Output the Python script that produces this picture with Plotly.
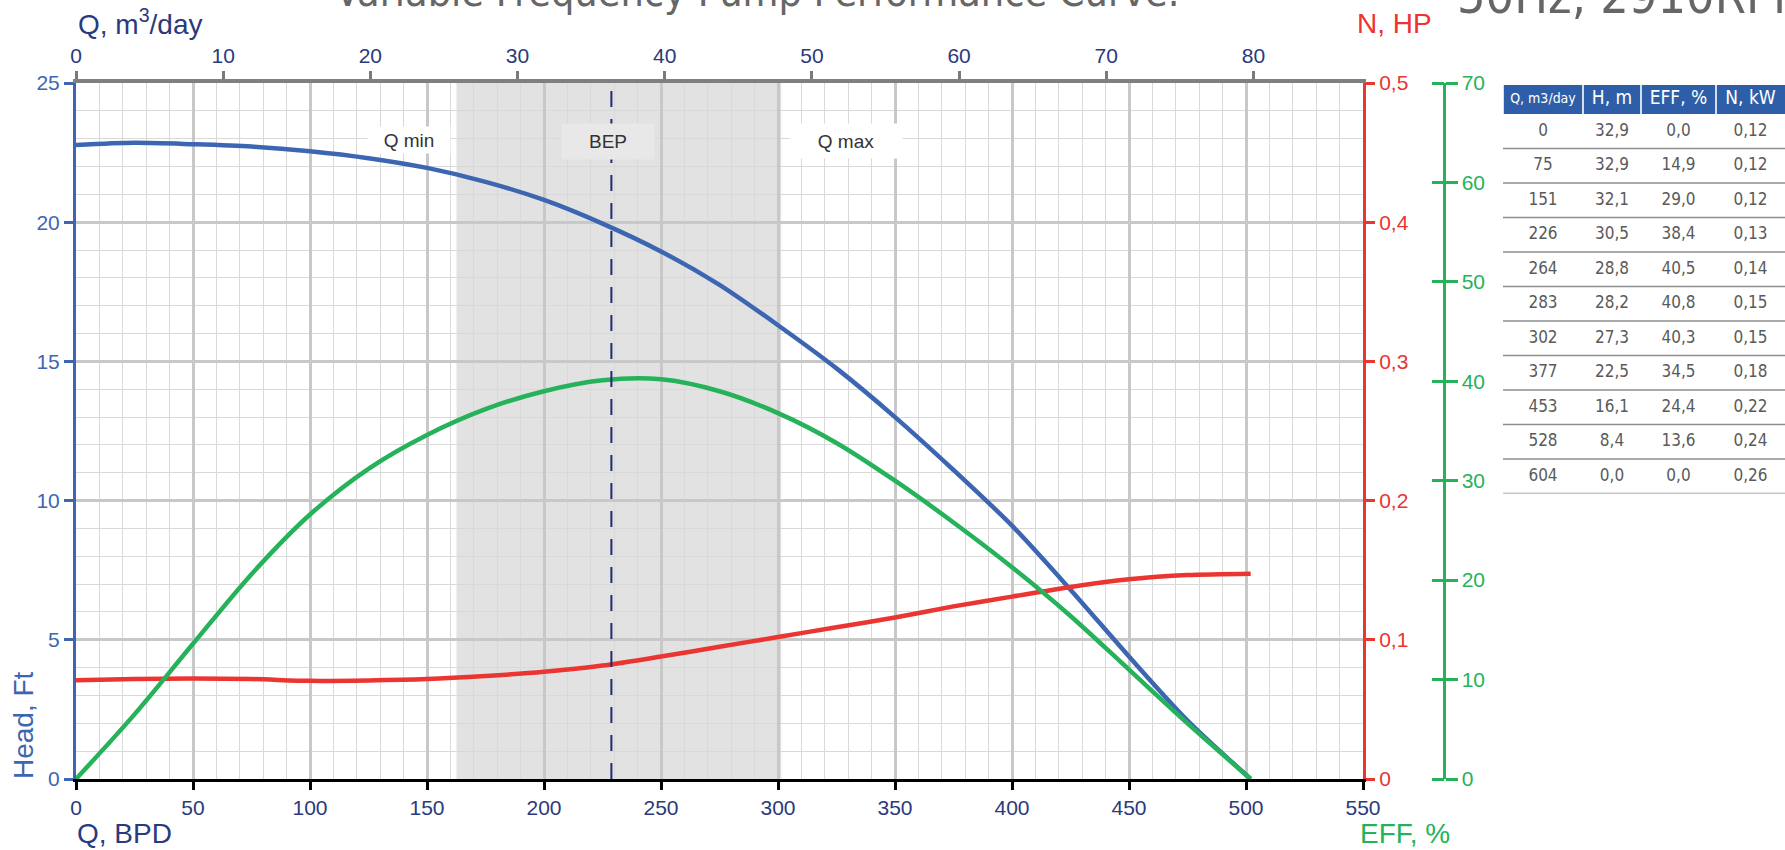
import plotly.graph_objects as go

# ---------------- data ----------------
q_bpd = [0, 25, 50, 75, 100, 125, 150, 175, 200, 225, 250, 275, 300, 325, 350, 375, 400, 425, 450, 475, 502]
head_ft = [22.77, 22.85, 22.8, 22.72, 22.55, 22.3, 21.95, 21.45, 20.8, 19.95, 18.95, 17.75, 16.3, 14.75, 13.0, 11.1, 9.1, 6.8, 4.4, 2.1, 0.0]
eff_pct = [0.0, 6.5, 13.6, 20.6, 26.6, 31.2, 34.6, 37.2, 39.0, 40.1, 40.2, 39.0, 36.8, 33.8, 30.0, 25.8, 21.3, 16.4, 11.0, 5.6, 0.0]
power_hp = [0.071, 0.0718, 0.0722, 0.0718, 0.0705, 0.0708, 0.0718, 0.074, 0.077, 0.0815, 0.088, 0.095, 0.102, 0.109, 0.116, 0.124, 0.131, 0.138, 0.1435, 0.1465, 0.1475]

q_min, q_bep, q_max = 162.6, 228.8, 301.4

x_ticks_bpd = [0, 50, 100, 150, 200, 250, 300, 350, 400, 450, 500, 550]
x_ticks_m3 = [0, 10, 20, 30, 40, 50, 60, 70, 80]
head_ticks = [0, 5, 10, 15, 20, 25]
hp_ticks = [0, 0.1, 0.2, 0.3, 0.4, 0.5]
hp_ticktext = ["0", "0,1", "0,2", "0,3", "0,4", "0,5"]
eff_ticks = [0, 10, 20, 30, 40, 50, 60, 70]

BBL_PER_M3 = 6.2898

# table data
tbl_headers = ["Q, m3/day", "H, m", "EFF, %", "N, kW"]
tbl_q = [0, 75, 151, 226, 264, 283, 302, 377, 453, 528, 604]
tbl_h = [32.9, 32.9, 32.1, 30.5, 28.8, 28.2, 27.3, 22.5, 16.1, 8.4, 0.0]
tbl_eff = [0.0, 14.9, 29.0, 38.4, 40.5, 40.8, 40.3, 34.5, 24.4, 13.6, 0.0]
tbl_n = [0.12, 0.12, 0.12, 0.13, 0.14, 0.15, 0.15, 0.18, 0.22, 0.24, 0.26]

# ---------------- styling ----------------
W, H = 1785, 850
PL, PR, PT, PB = 76, 1363, 83, 779
GREEN_AX_X = 1443.5
BLUE = "#3d66b2"
NAVY = "#2a3a7c"
RED = "#ea3530"
GREEN = "#26b25a"
FONT = "Liberation Sans, Arial, sans-serif"
NARROW = "Liberation Sans Narrow, DejaVu Sans Condensed, Arial Narrow, sans-serif"
TICK = 21
TITLE = 28

xd = [PL / W, PR / W]
yd = [1 - PB / H, 1 - PT / H]

fig = go.Figure()

fig.add_trace(go.Scatter(x=q_bpd, y=head_ft, mode="lines", line=dict(color=BLUE, width=4.5, shape="spline", smoothing=0.8),
                         xaxis="x", yaxis="y", hoverinfo="skip"))
fig.add_trace(go.Scatter(x=q_bpd, y=power_hp, mode="lines", line=dict(color=RED, width=4.5, shape="spline", smoothing=0.8),
                         xaxis="x", yaxis="y2", hoverinfo="skip"))
fig.add_trace(go.Scatter(x=q_bpd, y=eff_pct, mode="lines", line=dict(color=GREEN, width=4.5, shape="spline", smoothing=0.9),
                         xaxis="x", yaxis="y3", hoverinfo="skip"))
# helper invisible traces so the extra axes are drawn
fig.add_trace(go.Scatter(x=[0], y=[0], mode="markers", marker=dict(opacity=0), xaxis="x2", yaxis="y", hoverinfo="skip"))
fig.add_trace(go.Scatter(x=[0], y=[0], mode="markers", marker=dict(opacity=0), xaxis="x", yaxis="y4", hoverinfo="skip"))

# ---------------- table ----------------
COL_EDGES = [0, 80, 138, 213, 282]
HDR_H = 29 / 34.5
n_rows = len(tbl_q)
centers = [(COL_EDGES[j] + COL_EDGES[j + 1]) / 2 for j in range(4)]
cols_txt = [
    [str(v) for v in tbl_q],
    [f"{v:.1f}".replace(".", ",") for v in tbl_h],
    [f"{v:.1f}".replace(".", ",") for v in tbl_eff],
    [f"{v:.2f}".replace(".", ",") for v in tbl_n],
]
row_y = [i + 0.5 for i in range(n_rows)]
for j in range(4):
    fig.add_trace(go.Scatter(x=[centers[j]] * n_rows, y=row_y, text=cols_txt[j], mode="text",
                             textfont=dict(family=NARROW, size=17, color="#5a5a5a"),
                             xaxis="x5", yaxis="y5", hoverinfo="skip"))
hdr_sizes = [14, 19, 19, 19]
shapes = []
for j in range(4):
    shapes.append(dict(type="rect", xref="x5", yref="y5", x0=COL_EDGES[j] + 0.8, x1=COL_EDGES[j + 1] - (0.8 if j < 3 else 0),
                       y0=-HDR_H, y1=0, fillcolor="#2f5ea9", line=dict(width=0), layer="below"))
    fig.add_trace(go.Scatter(x=[centers[j]], y=[-HDR_H / 2], text=[tbl_headers[j]], mode="text",
                             textfont=dict(family=NARROW, size=hdr_sizes[j], color="white"),
                             xaxis="x5", yaxis="y5", hoverinfo="skip"))
for i in range(n_rows):
    shapes.append(dict(type="line", xref="x5", yref="y5", x0=COL_EDGES[0], x1=COL_EDGES[-1], y0=i + 1, y1=i + 1,
                       line=dict(color="#8e8e8e", width=1.5)))

# operating band + BEP
shapes.append(dict(type="rect", xref="x", yref="y", x0=q_min, x1=q_max, y0=0, y1=25,
                   fillcolor="#e2e2e2", line=dict(width=0), layer="below"))
shapes.append(dict(type="line", xref="x", yref="y", x0=q_bep, x1=q_bep, y0=0, y1=25,
                   line=dict(color="#1f2c6c", width=2, dash="16px,12px")))

annotations = [
    dict(text="Q min", x=(q_min + 122) / 2, y=22.95, xref="x", yref="y", showarrow=False,
         font=dict(family=FONT, size=19, color="#333333"), bgcolor="white", width=80, height=24),
    dict(text="BEP", x=q_bep - 1.5, y=22.9, xref="x", yref="y", showarrow=False,
         font=dict(family=FONT, size=19, color="#333333"), bgcolor="#e8e8e8", width=90, height=33),
    dict(text="Q max", x=329, y=22.9, xref="x", yref="y", showarrow=False,
         font=dict(family=FONT, size=19, color="#333333"), bgcolor="white", width=110, height=32),
    dict(text="Variable Frequency Pump Performance Curve.", x=757 / W, y=1 - 18 / H, xref="paper", yref="paper",
         xanchor="center", yanchor="bottom", showarrow=False, font=dict(family=NARROW, size=41, color="#666666")),
    dict(text="50Hz, 2910RPM", x=1455 / W, y=1 - 27 / H, xref="paper", yref="paper",
         xanchor="left", yanchor="bottom", showarrow=False, font=dict(family=NARROW, size=50, color="#666666")),
    dict(text="Q, m<sup>3</sup>/day", x=76 / W, y=1 - 22 / H, xref="paper", yref="paper",
         xanchor="left", yanchor="middle", showarrow=False, font=dict(family=FONT, size=TITLE, color=NAVY)),
    dict(text="N, HP", x=1355 / W, y=1 - 23 / H, xref="paper", yref="paper",
         xanchor="left", yanchor="middle", showarrow=False, font=dict(family=FONT, size=TITLE, color=RED)),
    dict(text="Q, BPD", x=75 / W, y=1 - 833 / H, xref="paper", yref="paper",
         xanchor="left", yanchor="middle", showarrow=False, font=dict(family=FONT, size=TITLE, color=NAVY)),
    dict(text="EFF, %", x=1358 / W, y=1 - 833 / H, xref="paper", yref="paper",
         xanchor="left", yanchor="middle", showarrow=False, font=dict(family=FONT, size=TITLE, color=GREEN)),
    dict(text="Head, Ft", x=23 / W, y=1 - 725 / H, xref="paper", yref="paper", textangle=-90,
         xanchor="center", yanchor="middle", showarrow=False, font=dict(family=FONT, size=TITLE, color=BLUE)),
]

fig.update_layout(
    width=W, height=H, margin=dict(l=0, r=0, t=0, b=0, autoexpand=False),
    paper_bgcolor="white", plot_bgcolor="white", showlegend=False,
    shapes=shapes, annotations=annotations,
    xaxis=dict(domain=xd, range=[0, 550], tickvals=x_ticks_bpd, ticks="outside", ticklen=8, tickwidth=2.5,
               tickcolor="black", showline=True, linecolor="black", linewidth=3, showgrid=True,
               gridcolor="#c8c8c8", gridwidth=2.5, zeroline=False, anchor="y", automargin=False,
               minor=dict(dtick=10, showgrid=True, gridcolor="#d9d9d9", gridwidth=1, ticks=""),
               tickfont=dict(family=FONT, size=TICK, color=NAVY), fixedrange=True),
    xaxis2=dict(overlaying="x", side="top", anchor="y", range=[0, 550 / BBL_PER_M3], tickvals=x_ticks_m3,
                ticks="outside", ticklen=8, tickwidth=2.5, tickcolor="#7a7a7a", showline=True,
                linecolor="#7f7f7f", linewidth=3.5, showgrid=False, zeroline=False, automargin=False,
                tickfont=dict(family=FONT, size=TICK, color=NAVY)),
    yaxis=dict(domain=yd, range=[0, 25], tickvals=head_ticks, ticks="outside", ticklen=9, tickwidth=3,
               tickcolor=BLUE, showline=True, linecolor=BLUE, linewidth=3, showgrid=True,
               gridcolor="#c8c8c8", gridwidth=2.5, zeroline=False, anchor="x", automargin=False,
               minor=dict(dtick=1, showgrid=True, gridcolor="#d9d9d9", gridwidth=1, ticks=""),
               tickfont=dict(family=FONT, size=TICK, color=BLUE)),
    yaxis2=dict(overlaying="y", side="right", anchor="x", range=[0, 0.5], tickvals=hp_ticks, ticktext=hp_ticktext,
                ticks="outside", ticklen=9, tickwidth=3, tickcolor=RED, showline=True, linecolor=RED,
                linewidth=3, showgrid=False, zeroline=False, automargin=False,
                tickfont=dict(family=FONT, size=TICK, color=RED)),
    yaxis3=dict(overlaying="y", side="right", anchor="free", position=GREEN_AX_X / W, range=[0, 70],
                tickvals=eff_ticks, ticks="outside", ticklen=12, tickwidth=3, tickcolor=GREEN, showline=True,
                linecolor=GREEN, linewidth=3, showgrid=False, zeroline=False, automargin=False,
                tickfont=dict(family=FONT, size=TICK, color=GREEN)),
    yaxis4=dict(overlaying="y", side="left", anchor="free", position=GREEN_AX_X / W, range=[0, 70],
                tickvals=eff_ticks, ticks="outside", ticklen=12, tickwidth=3, tickcolor=GREEN, showline=False,
                showticklabels=False, showgrid=False, zeroline=False, automargin=False),
    xaxis5=dict(domain=[1503 / W, 1.0], range=[0, 282], visible=False, anchor="y5", fixedrange=True, automargin=False),
    yaxis5=dict(domain=[1 - 493.5 / H, 1 - 85 / H], range=[n_rows, -HDR_H], visible=False, anchor="x5",
                fixedrange=True, automargin=False),
)

fig.write_html("out.html", config={"displayModeBar": False},
               post_script="document.body.style.margin='0';document.body.style.overflow='hidden';")
